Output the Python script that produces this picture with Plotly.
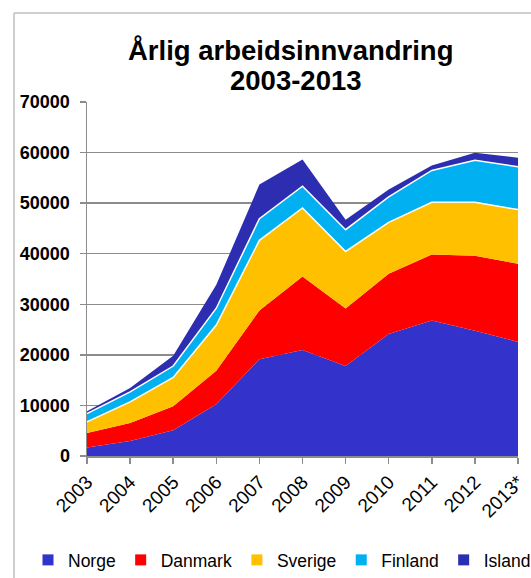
import plotly.graph_objects as go

years = ["2003", "2004", "2005", "2006", "2007", "2008", "2009", "2010", "2011", "2012", "2013*"]
norge = [1670, 2980, 5100, 10250, 19120, 20960, 17790, 24130, 26770, 24790, 22550]
danmark = [2890, 3560, 4760, 6600, 9640, 14540, 11360, 11900, 13090, 14810, 15460]
sverige = [2180, 4160, 5690, 9060, 13880, 13560, 11300, 10170, 10310, 10570, 10710]
finland = [1670, 1980, 2240, 3310, 4300, 4280, 4300, 5040, 6290, 8330, 8470]
island = [460, 790, 2040, 4620, 6740, 5290, 1980, 1450, 990, 1470, 1790]

series = [
    ("Norge", norge, "#3333CC", 0),
    ("Danmark", danmark, "#FF0000", 0),
    ("Sverige", sverige, "#FFC000", 1.5),
    ("Finland", finland, "#00B0F0", 1.5),
    ("Island", island, "#2D2DB2", 0),
]

FONT = "Liberation Sans, Arial, sans-serif"
xs = list(range(len(years)))

fig = go.Figure()
for name, vals, color, lw in series:
    fig.add_trace(go.Scatter(
        x=xs, y=vals, name=name, stackgroup="one", mode="lines",
        line=dict(width=lw, color="white" if lw else color),
        fillcolor=color, showlegend=False, hoverinfo="skip",
    ))
for name, vals, color, lw in series:
    fig.add_trace(go.Scatter(
        x=[None], y=[None], name=name, mode="markers",
        marker=dict(symbol="square", size=11, color=color),
        showlegend=True,
    ))

L, R, T, B = 87, 13, 102, 122
W, H = 531, 578
pw, ph = W - L - R, H - T - B


def px(xp):
    return (xp - L) / pw


def py(yp):
    return (H - B - yp) / ph


fig.update_layout(
    width=W, height=H,
    margin=dict(l=L, r=R, t=T, b=B, autoexpand=False),
    paper_bgcolor="white", plot_bgcolor="white",
    font=dict(family=FONT, color="black"),
    showlegend=True,
    legend=dict(
        orientation="h", xref="paper", yref="paper",
        x=px(28), xanchor="left", y=py(560), yanchor="middle",
        font=dict(size=17.5, family=FONT, color="black"),
        itemwidth=30, traceorder="normal", bgcolor="rgba(0,0,0,0)",
    ),
    xaxis=dict(
        range=[0, 10], tickmode="array", tickvals=xs, ticktext=years,
        tickangle=-45, tickfont=dict(size=19, family=FONT, color="black"),
        showgrid=False, showline=True, linecolor="#8C8C8C", linewidth=1.5,
        ticks="outside", ticklen=6, tickcolor="#8C8C8C", tickwidth=1.5,
        zeroline=False, fixedrange=True, automargin=False,
    ),
    yaxis=dict(
        range=[0, 70000], dtick=10000, tickformat="d",
        tickfont=dict(size=18, family=FONT, color="black", weight="bold"),
        showgrid=True, gridcolor="#8C8C8C", gridwidth=1.5,
        showline=True, linecolor="#8C8C8C", linewidth=1.5,
        ticks="outside", ticklen=6, tickcolor="#8C8C8C", tickwidth=1.5,
        ticklabelstandoff=6, zeroline=False, fixedrange=True, automargin=False,
    ),
    annotations=[
        dict(text="<b>Årlig arbeidsinnvandring</b>", xref="paper", yref="paper",
             x=px(290), y=py(51), xanchor="center", yanchor="middle",
             showarrow=False, font=dict(size=27.5, family=FONT, color="black")),
        dict(text="<b>2003-2013</b>", xref="paper", yref="paper",
             x=px(296), y=py(81), xanchor="center", yanchor="middle",
             showarrow=False, font=dict(size=27.5, family=FONT, color="black")),
    ],
    shapes=[
        dict(type="line", xref="paper", yref="paper", x0=px(14), x1=px(540),
             y0=py(13), y1=py(13), line=dict(color="#BFBFBF", width=1.5), layer="below"),
        dict(type="line", xref="paper", yref="paper", x0=px(14), x1=px(14),
             y0=py(13), y1=py(590), line=dict(color="#BFBFBF", width=1.5), layer="below"),
    ],
)

fig.write_html(
    "out.html",
    config={"displayModeBar": False, "staticPlot": True},
    post_script="document.body.style.margin='0';document.body.style.overflow='hidden';",
)
